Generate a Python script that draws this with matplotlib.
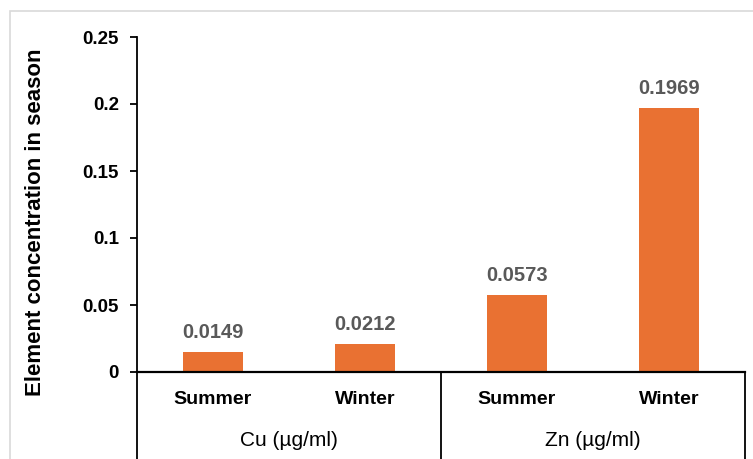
import matplotlib.pyplot as plt
from matplotlib.patches import Rectangle

# season concentrations per element
elements = ['Cu (µg/ml)', 'Zn (µg/ml)']
seasons = ['Summer', 'Winter']
cu_values = [0.0149, 0.0212]
zn_values = [0.0573, 0.1969]
y_ticks = [0, 0.05, 0.1, 0.15, 0.2, 0.25]
y_tick_labels = ['0', '0.05', '0.1', '0.15', '0.2', '0.25']

plt.rcParams['font.family'] = ['Liberation Sans', 'DejaVu Sans']

BAR_COLOR = '#e97132'
LABEL_GRAY = '#595959'

values = cu_values + zn_values
positions = list(range(len(values)))

fig = plt.figure(figsize=(7.53, 4.59), dpi=100)
ax = fig.add_axes([137 / 753, 1 - 372 / 459, 608 / 753, 335 / 459])

# light chart-area frame
fig.patches.append(Rectangle((10 / 753, -0.1), 1.2, 1 - 11 / 459 + 0.1,
                             transform=fig.transFigure, fill=False,
                             edgecolor='#d9d9d9', linewidth=1.2))

bars = ax.bar(positions, values, width=0.4, color=BAR_COLOR)
for rect, v in zip(bars, values):
    ax.annotate(f'{v:.4f}', (rect.get_x() + rect.get_width() / 2, v),
                xytext=(0, 7), textcoords='offset points',
                ha='center', va='bottom', fontsize=14.5,
                fontweight='bold', color=LABEL_GRAY)

ax.set_xlim(-0.5, len(values) - 0.5)
ax.set_ylim(0, 0.25)
ax.set_yticks(y_ticks)
ax.set_yticklabels(y_tick_labels, fontsize=13.5, fontweight='bold')
ax.tick_params(axis='y', direction='out', length=5, width=1.3, pad=8)
ax.set_xticks([])
ax.set_ylabel('Element concentration in season', fontsize=16,
              fontweight='bold')
ax.yaxis.set_label_coords(-0.149, 0.446)

for side in ['top', 'right']:
    ax.spines[side].set_visible(False)
ax.spines['left'].set_linewidth(1.3)
ax.spines['bottom'].set_linewidth(1.6)

# two-level category axis: season labels, then element groups
xt = ax.get_xaxis_transform()
for i, p in enumerate(positions):
    ax.text(p, -0.083, seasons[i % 2], transform=xt, ha='center', va='center',
            fontsize=14, fontweight='bold')
for g, name in enumerate(elements):
    ax.text(2 * g + 0.5, -0.205, name, transform=xt, ha='center', va='center',
            fontsize=15)
for x in [-0.5, 1.5, 3.5]:
    ax.plot([x, x], [0, -0.26], transform=xt, color='black', linewidth=1.3,
            clip_on=False)

fig.savefig('out.png', dpi=100)
